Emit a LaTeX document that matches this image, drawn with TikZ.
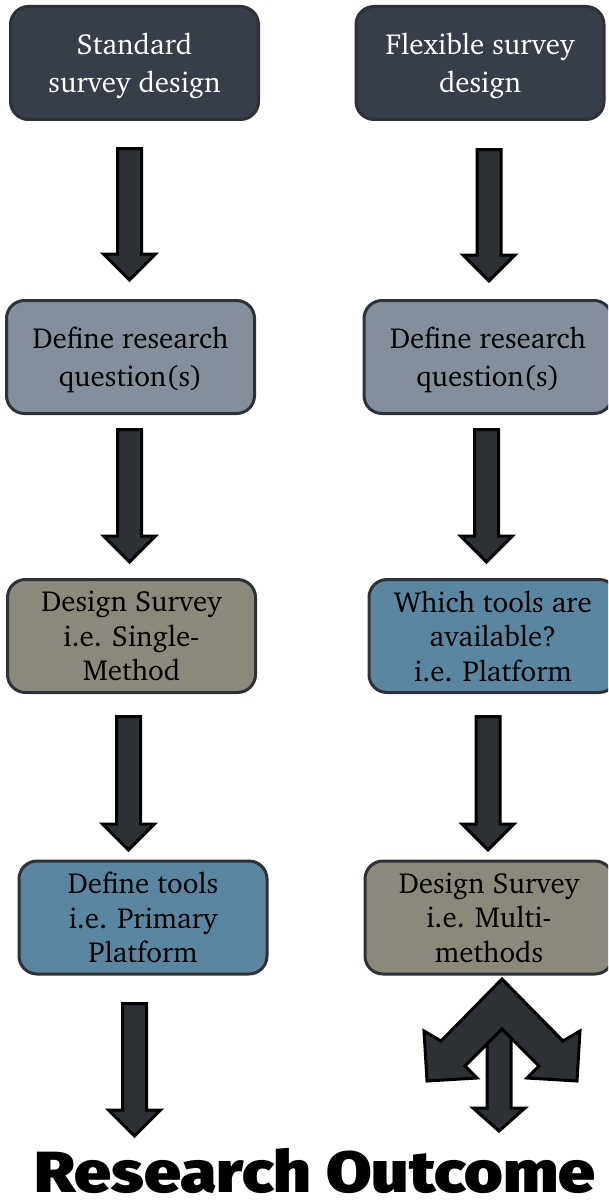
\documentclass[tikz,border=0pt]{standalone}
\usepackage[T1]{fontenc}
\usepackage{fontspec}
\usetikzlibrary{calc}
\newfontfamily\titlefont{Fira Sans Black}
\newcommand\boxfont{\fontencoding{T1}\fontfamily{bch}\fontsize{29}{34.5}\selectfont}
\newcommand\pairfont{\fontencoding{T1}\fontfamily{bch}\fontsize{29}{37.5}\selectfont}

\definecolor{topfill}{HTML}{383D4A}
\definecolor{slatefill}{HTML}{848F9B}
\definecolor{khakifill}{HTML}{8A897B}
\definecolor{steelfill}{HTML}{5A86A1}
\definecolor{boxline}{HTML}{2E3236}
\definecolor{arrowfill}{HTML}{2D3034}

\tikzset{
  flowbox/.style={rounded corners=18pt, draw=boxline, line width=3pt,
    minimum width=248pt, minimum height=113pt, inner sep=0pt, text depth=0pt,
    align=center, font=\boxfont, text=black},
  twoline/.style={font=\pairfont},
  blockarrow/.style={draw=black, fill=arrowfill, line width=3pt, line join=miter},
}

% vertical block arrow from the top of its shaft (#1) down to its tip (#2)
\newcommand\blockarrow[2]{%
  \path[blockarrow] let \p1=(#1), \p2=(#2) in
    (\x1-12pt,\y1) -- (\x1+12pt,\y1) -- (\x1+12pt,\y2+26pt) -- (\x1+26pt,\y2+26pt)
    -- (\x1,\y2) -- (\x1-26pt,\y2+26pt) -- (\x1-12pt,\y2+26pt) -- cycle;}

\begin{document}
\begin{tikzpicture}[x=1pt,y=-1pt]
\useasboundingbox (0,0) rectangle (608,1204);
\clip (0,0) rectangle (608,1204);

% standard design column
\node[flowbox, twoline, fill=topfill, text=white] (s1) at (134.5,63) {Standard\\survey design};
\node[flowbox, twoline, fill=slatefill] (s2) at (130.5,357) {Define research\\question(s)};
\node[flowbox, fill=khakifill] (s3) at (131.5,636) {Design Survey\\i.e. Single-\\Method};
\node[flowbox, fill=steelfill] (s4) at (143,917.5) {Define tools\\i.e. Primary\\Platform};

% flexible design column
\node[flowbox, twoline, fill=topfill, text=white] (f1) at (480,63) {Flexible survey\\design};
\node[flowbox, twoline, fill=slatefill] (f2) at (488,357) {Define research\\question(s)};
\node[flowbox, fill=steelfill] (f3) at (493,636) {Which tools are\\available?\\i.e. Platform};
\node[flowbox, fill=khakifill] (f4) at (489,917.5) {Design Survey\\i.e. Multi-\\methods};

% outcome
\node[font=\titlefont\fontsize{58}{64}\selectfont, anchor=base, inner sep=0pt,
      text depth=0pt, xscale=1.14] (outcome) at (315,1192) {Research Outcome};

% arrow end points
\coordinate (s1a) at (129.5,148.5); \coordinate (s1b) at (129.5,280);
\coordinate (s2a) at (129.5,429.5); \coordinate (s2b) at (129.5,562);
\coordinate (s3a) at (128.5,716.5); \coordinate (s3b) at (128.5,850);
\coordinate (s4a) at (134.5,1003.5); \coordinate (s4b) at (134.5,1136);
\coordinate (f1a) at (489,149.5); \coordinate (f1b) at (489,281);
\coordinate (f2a) at (486.5,429.5); \coordinate (f2b) at (486.5,562);
\coordinate (f3a) at (488,716.5); \coordinate (f3b) at (488,850);

\blockarrow{s1a}{s1b}
\blockarrow{s2a}{s2b}
\blockarrow{s3a}{s3b}
\blockarrow{s4a}{s4b}
\blockarrow{f1a}{f1b}
\blockarrow{f2a}{f2b}
\blockarrow{f3a}{f3b}

% three-way split arrow below the multi-method box
\coordinate (fork) at (502,979);
\begin{scope}[shift={(fork)}]
  \path[blockarrow] (0,0) -- (-61,62) -- (-78,52) -- (-75,102) -- (-25,99) -- (-37,87)
    -- (0,50) -- (37,87) -- (25,99) -- (75,102) -- (78,52) -- (61,62) -- cycle;
  \path[blockarrow] (-15,65) -- (0,50) -- (9,59) -- (9,129) -- (23,129) -- (-3,152)
    -- (-29,129) -- (-15,129) -- cycle;
\end{scope}
\end{tikzpicture}
\end{document}
